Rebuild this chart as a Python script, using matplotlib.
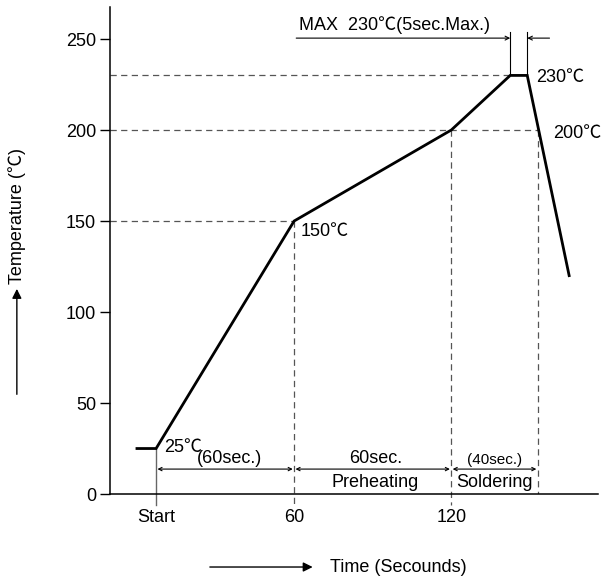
import matplotlib.pyplot as plt
from matplotlib.patches import FancyArrowPatch

plt.rcParams['font.family'] = ['Liberation Sans', 'Noto Sans CJK JP', 'DejaVu Sans']

# Reflow profile (time in seconds, temperature in deg C)
time_s = [0, 7.3, 60, 120, 142.5, 149, 165]
temp_c = [25, 25, 150, 200, 230, 230, 120]

x_ticks = [7.3, 60, 120]
x_labels = ["Start", "60", "120"]
y_ticks = [0, 50, 100, 150, 200, 250]

solder_end = 153
dash = (0, (5, 3.5))
gray = '#555555'
fs = 13

fig = plt.figure(figsize=(6.02, 5.78), dpi=100)
ax = fig.add_axes([0.1827, 0.1453, 0.8106, 0.8426])
ax.set_xlim(-10.3, 176)
ax.set_ylim(0, 267.6)
ax.spines['top'].set_visible(False)
ax.spines['right'].set_visible(False)
ax.spines['left'].set_linewidth(1.1)
ax.spines['bottom'].set_linewidth(1.1)

ax.set_yticks(y_ticks)
ax.set_xticks(x_ticks)
ax.set_xticklabels(x_labels)
ax.tick_params(axis='y', direction='out', length=7, width=1, labelsize=fs, pad=3)
ax.tick_params(axis='x', length=0, labelsize=fs, pad=11)

# guide lines
ax.plot([-10.3, 142.5], [230, 230], ls=dash, lw=0.9, color=gray)
ax.plot([-10.3, solder_end], [200, 200], ls=dash, lw=0.9, color=gray)
ax.plot([-10.3, 60], [150, 150], ls=dash, lw=0.9, color=gray)
ax.plot([60, 60], [150, -6], ls=dash, lw=0.9, color=gray, clip_on=False)
ax.plot([120, 120], [200, -6], ls=dash, lw=0.9, color=gray, clip_on=False)
ax.plot([solder_end, solder_end], [200, 0], ls=dash, lw=0.9, color=gray)
ax.plot([7.3, 7.3], [25, -6], lw=1.0, color='#666666', clip_on=False)

# profile curve
ax.plot(time_s, temp_c, color='black', lw=2.0, solid_joinstyle='miter')

# peak bracket
ax.plot([142.5, 142.5], [230, 254], color='black', lw=0.8)
ax.plot([149, 149], [230, 254], color='black', lw=0.8)
ax.annotate('', xy=(142.5, 250.5), xytext=(60.8, 250.5),
            arrowprops=dict(arrowstyle='->', lw=0.8, mutation_scale=7, shrinkA=0, shrinkB=0))
ax.annotate('', xy=(149, 250.5), xytext=(157.5, 250.5),
            arrowprops=dict(arrowstyle='->', lw=0.8, mutation_scale=7, shrinkA=0, shrinkB=0))
ax.text(62, 252.5, "MAX  230℃(5sec.Max.)", fontsize=fs, va='bottom', ha='left')

# point labels
ax.text(152.5, 229, "230℃", fontsize=fs, va='center', ha='left')
ax.text(159, 198, "200℃", fontsize=fs, va='center', ha='left')
ax.text(62.3, 144, "150℃", fontsize=fs, va='center', ha='left')
ax.text(10.5, 25.5, "25℃", fontsize=fs, va='center', ha='left')

# duration dimension arrows
for a, b in [(7.3, 60), (60, 120), (120, solder_end)]:
    ax.annotate('', xy=(b, 13.7), xytext=(a, 13.7),
                arrowprops=dict(arrowstyle='<->', lw=0.8, mutation_scale=6, shrinkA=1, shrinkB=1))
ax.text(35.5, 15, "(60sec.)", fontsize=fs, ha='center', va='bottom')
ax.text(91, 15, "60sec.", fontsize=fs, ha='center', va='bottom')
ax.text(91, 6.2, "Preheating", fontsize=fs, ha='center', va='center')
ax.text(136.5, 15, "(40sec.)", fontsize=11, ha='center', va='bottom', stretch='condensed')
ax.text(136.5, 6.2, "Soldering", fontsize=fs, ha='center', va='center')

# axis captions with arrows
fig.text(0.028, 0.626, "Temperature (℃)", rotation=90, fontsize=fs, ha='center', va='center')
fig.add_artist(FancyArrowPatch(
    (0.028, 0.313), (0.028, 0.505), transform=fig.transFigure,
    arrowstyle='-|>', mutation_scale=14, lw=1.0, color='black'))
fig.add_artist(FancyArrowPatch(
    (0.344, 0.019), (0.524, 0.019), transform=fig.transFigure,
    arrowstyle='-|>', mutation_scale=14, lw=1.0, color='black'))
fig.text(0.548, 0.019, "Time (Secounds)", fontsize=fs, ha='left', va='center')

plt.savefig("out.png", dpi=100)
